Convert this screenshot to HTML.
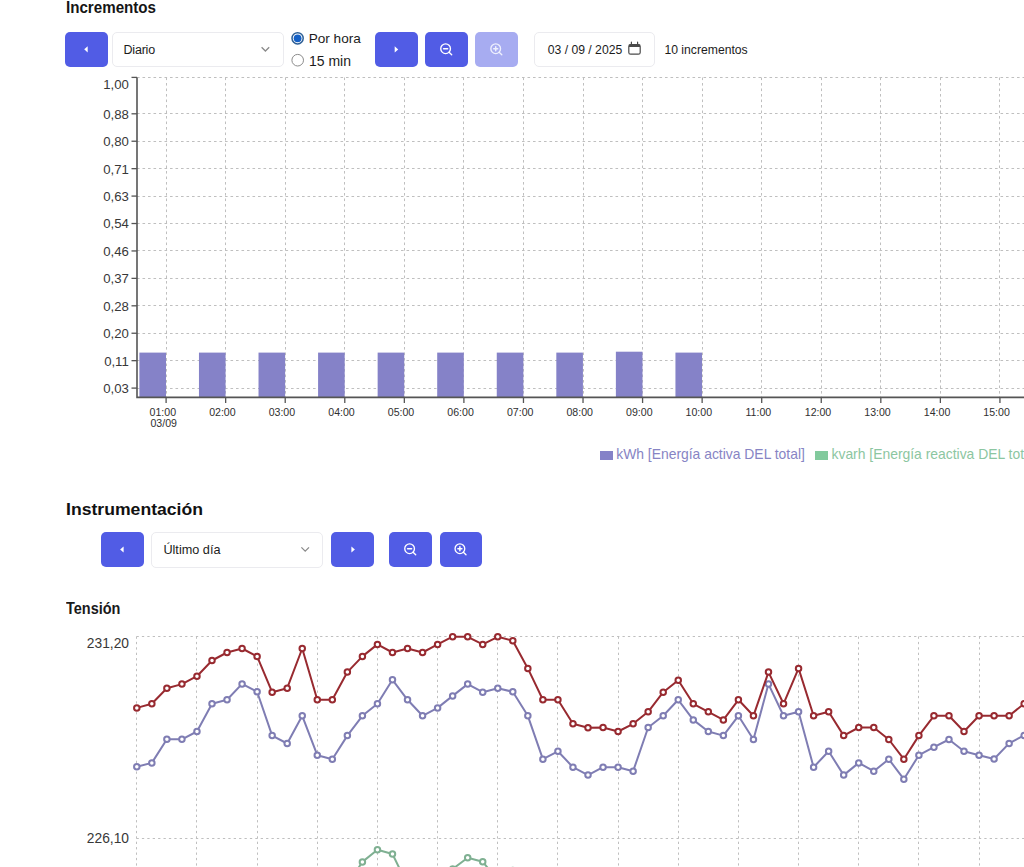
<!DOCTYPE html>
<html><head><meta charset="utf-8"><style>
*{box-sizing:border-box}
html,body{margin:0;padding:0;background:#fff;width:1024px;height:867px;overflow:hidden;position:relative;font-family:"Liberation Sans", sans-serif;color:#1c1c1c}
.a{position:absolute}
.h{position:absolute;font-weight:700;white-space:nowrap;color:#111}
.btn{position:absolute;background:#515ce5;border-radius:5px;display:flex;align-items:center;justify-content:center}
.sel{position:absolute;border:1px solid #ebebef;border-radius:5px;background:#fff}
.yl{position:absolute;right:895.2px;font-size:13.2px;line-height:16px;color:#383838;white-space:nowrap;text-align:right}
.xl{position:absolute;top:406.2px;width:40px;text-align:center;font-size:10.6px;line-height:12px;color:#303030;white-space:nowrap}
.t{position:absolute;white-space:nowrap}
</style></head><body>
<div class="h" style="left:65.5px;top:-1.1px;font-size:16px;line-height:18px;transform:scaleX(0.946);transform-origin:0 0;color:#151515">Incrementos</div>

<div class="btn" style="left:65px;top:31.6px;width:43px;height:35.4px"></div>
<div class="sel" style="left:112px;top:32px;width:172px;height:35px"></div>
<div class="t" style="left:123.5px;top:43px;font-size:12.5px;line-height:15px;letter-spacing:-0.2px">Diario</div>


<div class="t" style="left:308.7px;top:31.3px;font-size:13.6px;line-height:16px">Por hora</div>
<div class="t" style="left:309px;top:52.8px;font-size:14px;line-height:16px">15 min</div>

<div class="btn" style="left:374.5px;top:31.6px;width:43px;height:35.4px"></div>
<div class="btn" style="left:424.7px;top:31.6px;width:43px;height:35.4px"></div>
<div class="btn" style="left:475px;top:31.6px;width:43px;height:35.4px;background:#a7acf1"></div>

<div class="sel" style="left:534px;top:32px;width:121px;height:35px"></div>
<div class="t" style="left:547.7px;top:42.7px;font-size:12.2px;line-height:15px">03 / 09 / 2025</div>

<div class="t" style="left:664.4px;top:42.7px;font-size:12.2px;line-height:15px">10 incrementos</div>

<svg width="1024" height="867" style="position:absolute;left:0;top:0"><g stroke="#bfbfbf" stroke-width="1" stroke-dasharray="2.6 2.9"><line x1="137" y1="77.50" x2="1024" y2="77.50"/><line x1="137" y1="113.50" x2="1024" y2="113.50"/><line x1="137" y1="141.50" x2="1024" y2="141.50"/><line x1="137" y1="168.50" x2="1024" y2="168.50"/><line x1="137" y1="196.50" x2="1024" y2="196.50"/><line x1="137" y1="223.50" x2="1024" y2="223.50"/><line x1="137" y1="250.50" x2="1024" y2="250.50"/><line x1="137" y1="278.50" x2="1024" y2="278.50"/><line x1="137" y1="305.50" x2="1024" y2="305.50"/><line x1="137" y1="333.50" x2="1024" y2="333.50"/><line x1="137" y1="360.50" x2="1024" y2="360.50"/><line x1="137" y1="388.50" x2="1024" y2="388.50"/><line x1="166.50" y1="77.5" x2="166.50" y2="397"/><line x1="225.50" y1="77.5" x2="225.50" y2="397"/><line x1="285.50" y1="77.5" x2="285.50" y2="397"/><line x1="344.50" y1="77.5" x2="344.50" y2="397"/><line x1="404.50" y1="77.5" x2="404.50" y2="397"/><line x1="463.50" y1="77.5" x2="463.50" y2="397"/><line x1="523.50" y1="77.5" x2="523.50" y2="397"/><line x1="583.50" y1="77.5" x2="583.50" y2="397"/><line x1="642.50" y1="77.5" x2="642.50" y2="397"/><line x1="702.50" y1="77.5" x2="702.50" y2="397"/><line x1="761.50" y1="77.5" x2="761.50" y2="397"/><line x1="821.50" y1="77.5" x2="821.50" y2="397"/><line x1="880.50" y1="77.5" x2="880.50" y2="397"/><line x1="940.50" y1="77.5" x2="940.50" y2="397"/><line x1="999.50" y1="77.5" x2="999.50" y2="397"/></g><rect x="139.40" y="352.6" width="26.6" height="44.80" fill="#8582c8"/><rect x="198.96" y="352.6" width="26.6" height="44.80" fill="#8582c8"/><rect x="258.52" y="352.6" width="26.6" height="44.80" fill="#8582c8"/><rect x="318.08" y="352.6" width="26.6" height="44.80" fill="#8582c8"/><rect x="377.64" y="352.6" width="26.6" height="44.80" fill="#8582c8"/><rect x="437.20" y="352.6" width="26.6" height="44.80" fill="#8582c8"/><rect x="496.76" y="352.6" width="26.6" height="44.80" fill="#8582c8"/><rect x="556.32" y="352.6" width="26.6" height="44.80" fill="#8582c8"/><rect x="615.88" y="351.7" width="26.6" height="45.70" fill="#8582c8"/><rect x="675.44" y="352.6" width="26.6" height="44.80" fill="#8582c8"/><path d="M137,77.4 V397.4 H1024" fill="none" stroke="#555" stroke-width="1.6"/><path d="M131.5,77.4 H137" stroke="#555" stroke-width="1.3"/><g stroke="#555" stroke-width="1.3"><path d="M131.5,113.80 H137"/><path d="M131.5,141.23 H137"/><path d="M131.5,168.66 H137"/><path d="M131.5,196.09 H137"/><path d="M131.5,223.52 H137"/><path d="M131.5,250.95 H137"/><path d="M131.5,278.38 H137"/><path d="M131.5,305.81 H137"/><path d="M131.5,333.24 H137"/><path d="M131.5,360.67 H137"/><path d="M131.5,388.10 H137"/><path d="M166.10,397.4 V403"/><path d="M225.66,397.4 V403"/><path d="M285.22,397.4 V403"/><path d="M344.78,397.4 V403"/><path d="M404.34,397.4 V403"/><path d="M463.90,397.4 V403"/><path d="M523.46,397.4 V403"/><path d="M583.02,397.4 V403"/><path d="M642.58,397.4 V403"/><path d="M702.14,397.4 V403"/><path d="M761.70,397.4 V403"/><path d="M821.26,397.4 V403"/><path d="M880.82,397.4 V403"/><path d="M940.38,397.4 V403"/><path d="M999.94,397.4 V403"/></g></svg>
<div class="yl" style="top:77.0px">1,00</div><div class="yl" style="top:106.7px">0,88</div><div class="yl" style="top:134.1px">0,80</div><div class="yl" style="top:161.6px">0,71</div><div class="yl" style="top:189.0px">0,63</div><div class="yl" style="top:216.4px">0,54</div><div class="yl" style="top:243.8px">0,46</div><div class="yl" style="top:271.3px">0,37</div><div class="yl" style="top:298.7px">0,28</div><div class="yl" style="top:326.1px">0,20</div><div class="yl" style="top:353.6px">0,11</div><div class="yl" style="top:381.0px">0,03</div><div class="xl" style="left:142.8px">01:00</div><div class="xl" style="left:202.4px">02:00</div><div class="xl" style="left:261.9px">03:00</div><div class="xl" style="left:321.5px">04:00</div><div class="xl" style="left:381.0px">05:00</div><div class="xl" style="left:440.6px">06:00</div><div class="xl" style="left:500.2px">07:00</div><div class="xl" style="left:559.7px">08:00</div><div class="xl" style="left:619.3px">09:00</div><div class="xl" style="left:678.8px">10:00</div><div class="xl" style="left:738.4px">11:00</div><div class="xl" style="left:798.0px">12:00</div><div class="xl" style="left:857.5px">13:00</div><div class="xl" style="left:917.1px">14:00</div><div class="xl" style="left:976.6px">15:00</div><div class="xl" style="left:143.7px;top:416.8px">03/09</div>

<div class="a" style="left:600.1px;top:450.6px;width:12.7px;height:9px;background:#8582c8"></div>
<div class="t" style="left:616.2px;top:446px;font-size:13.9px;line-height:16px;color:#8784c4">kWh [Energía activa DEL total]</div>
<div class="a" style="left:815.4px;top:450.6px;width:12.7px;height:9px;background:#82ca9d"></div>
<div class="t" style="left:831.5px;top:446px;font-size:13.9px;line-height:16px;color:#8cc6a1">kvarh [Energía reactiva DEL total]</div>

<div class="h" style="left:65.9px;top:500px;font-size:16.2px;line-height:19px;transform:scaleX(1.088);transform-origin:0 0">Instrumentación</div>

<div class="btn" style="left:101px;top:531.6px;width:43px;height:35.6px"></div>
<div class="sel" style="left:151.2px;top:531.7px;width:172.3px;height:36px"></div>
<div class="t" style="left:163.4px;top:542.6px;font-size:12.7px;line-height:15px">Último día</div>

<div class="btn" style="left:331.4px;top:531.6px;width:42.6px;height:35.6px"></div>
<div class="btn" style="left:389px;top:531.6px;width:42.6px;height:35.6px"></div>
<div class="btn" style="left:439.5px;top:531.6px;width:42.2px;height:35.6px"></div>

<div class="h" style="left:65.5px;top:600.4px;font-size:16px;line-height:18px;transform:scaleX(0.905);transform-origin:0 0;color:#1a1a1a">Tensión</div>

<svg width="1024" height="867" style="position:absolute;left:0;top:0"><g stroke="#bfbfbf" stroke-width="1" stroke-dasharray="2.3 3.1"><line x1="136.5" y1="636.5" x2="1024" y2="636.5"/><line x1="136.5" y1="838.5" x2="1024" y2="838.5"/><line x1="136.50" y1="636.5" x2="136.50" y2="867"/><line x1="196.50" y1="636.5" x2="196.50" y2="867"/><line x1="257.50" y1="636.5" x2="257.50" y2="867"/><line x1="317.50" y1="636.5" x2="317.50" y2="867"/><line x1="377.50" y1="636.5" x2="377.50" y2="867"/><line x1="437.50" y1="636.5" x2="437.50" y2="867"/><line x1="497.50" y1="636.5" x2="497.50" y2="867"/><line x1="557.50" y1="636.5" x2="557.50" y2="867"/><line x1="618.50" y1="636.5" x2="618.50" y2="867"/><line x1="678.50" y1="636.5" x2="678.50" y2="867"/><line x1="738.50" y1="636.5" x2="738.50" y2="867"/><line x1="798.50" y1="636.5" x2="798.50" y2="867"/><line x1="858.50" y1="636.5" x2="858.50" y2="867"/><line x1="918.50" y1="636.5" x2="918.50" y2="867"/><line x1="979.50" y1="636.5" x2="979.50" y2="867"/></g><path d="M332.32,905.00 L347.36,885.00 L362.40,861.90 L377.44,849.70 L392.48,854.00 L407.52,885.00 L422.56,900.00 L437.60,890.00 L452.64,869.00 L467.68,857.70 L482.72,861.80 L497.76,880.00 L512.80,870.50 L527.84,880.00 L663.20,885.00 L678.24,870.80 L693.28,885.00" fill="none" stroke="#7fb092" stroke-width="2.0" stroke-linejoin="round"/><circle cx="332.32" cy="905.00" r="2.75" fill="#fff" stroke="#7fb092" stroke-width="2.00"/><circle cx="347.36" cy="885.00" r="2.75" fill="#fff" stroke="#7fb092" stroke-width="2.00"/><circle cx="362.40" cy="861.90" r="2.75" fill="#fff" stroke="#7fb092" stroke-width="2.00"/><circle cx="377.44" cy="849.70" r="2.75" fill="#fff" stroke="#7fb092" stroke-width="2.00"/><circle cx="392.48" cy="854.00" r="2.75" fill="#fff" stroke="#7fb092" stroke-width="2.00"/><circle cx="407.52" cy="885.00" r="2.75" fill="#fff" stroke="#7fb092" stroke-width="2.00"/><circle cx="422.56" cy="900.00" r="2.75" fill="#fff" stroke="#7fb092" stroke-width="2.00"/><circle cx="437.60" cy="890.00" r="2.75" fill="#fff" stroke="#7fb092" stroke-width="2.00"/><circle cx="452.64" cy="869.00" r="2.75" fill="#fff" stroke="#7fb092" stroke-width="2.00"/><circle cx="467.68" cy="857.70" r="2.75" fill="#fff" stroke="#7fb092" stroke-width="2.00"/><circle cx="482.72" cy="861.80" r="2.75" fill="#fff" stroke="#7fb092" stroke-width="2.00"/><circle cx="497.76" cy="880.00" r="2.75" fill="#fff" stroke="#7fb092" stroke-width="2.00"/><circle cx="512.80" cy="870.50" r="2.75" fill="#fff" stroke="#7fb092" stroke-width="2.00"/><circle cx="527.84" cy="880.00" r="2.75" fill="#fff" stroke="#7fb092" stroke-width="2.00"/><circle cx="663.20" cy="885.00" r="2.75" fill="#fff" stroke="#7fb092" stroke-width="2.00"/><circle cx="678.24" cy="870.80" r="2.75" fill="#fff" stroke="#7fb092" stroke-width="2.00"/><circle cx="693.28" cy="885.00" r="2.75" fill="#fff" stroke="#7fb092" stroke-width="2.00"/><path d="M136.80,766.80 L151.84,762.90 L166.88,739.30 L181.92,739.30 L196.96,731.50 L212.00,703.80 L227.04,699.80 L242.08,683.90 L257.12,691.80 L272.16,735.60 L287.20,743.50 L302.24,715.80 L317.28,755.20 L332.32,759.20 L347.36,735.60 L362.40,715.80 L377.44,703.80 L392.48,679.80 L407.52,699.80 L422.56,715.80 L437.60,707.90 L452.64,695.90 L467.68,684.10 L482.72,692.20 L497.76,688.20 L512.80,691.80 L527.84,715.80 L542.88,759.20 L557.92,751.30 L572.96,767.20 L588.00,775.10 L603.04,767.20 L618.08,767.20 L633.12,771.20 L648.16,727.50 L663.20,715.80 L678.24,699.80 L693.28,719.90 L708.32,731.50 L723.36,735.60 L738.40,715.80 L753.44,739.50 L768.48,684.10 L783.52,715.80 L798.56,711.80 L813.60,767.20 L828.64,751.30 L843.68,775.10 L858.72,762.90 L873.76,771.20 L888.80,759.20 L903.84,779.20 L918.88,755.20 L933.92,747.20 L948.96,739.50 L964.00,751.30 L979.04,755.20 L994.08,759.00 L1009.12,743.40 L1024.16,735.40 L1039.20,730.00" fill="none" stroke="#7f7db3" stroke-width="2.0" stroke-linejoin="round"/><circle cx="136.80" cy="766.80" r="2.75" fill="#fff" stroke="#7f7db3" stroke-width="2.00"/><circle cx="151.84" cy="762.90" r="2.75" fill="#fff" stroke="#7f7db3" stroke-width="2.00"/><circle cx="166.88" cy="739.30" r="2.75" fill="#fff" stroke="#7f7db3" stroke-width="2.00"/><circle cx="181.92" cy="739.30" r="2.75" fill="#fff" stroke="#7f7db3" stroke-width="2.00"/><circle cx="196.96" cy="731.50" r="2.75" fill="#fff" stroke="#7f7db3" stroke-width="2.00"/><circle cx="212.00" cy="703.80" r="2.75" fill="#fff" stroke="#7f7db3" stroke-width="2.00"/><circle cx="227.04" cy="699.80" r="2.75" fill="#fff" stroke="#7f7db3" stroke-width="2.00"/><circle cx="242.08" cy="683.90" r="2.75" fill="#fff" stroke="#7f7db3" stroke-width="2.00"/><circle cx="257.12" cy="691.80" r="2.75" fill="#fff" stroke="#7f7db3" stroke-width="2.00"/><circle cx="272.16" cy="735.60" r="2.75" fill="#fff" stroke="#7f7db3" stroke-width="2.00"/><circle cx="287.20" cy="743.50" r="2.75" fill="#fff" stroke="#7f7db3" stroke-width="2.00"/><circle cx="302.24" cy="715.80" r="2.75" fill="#fff" stroke="#7f7db3" stroke-width="2.00"/><circle cx="317.28" cy="755.20" r="2.75" fill="#fff" stroke="#7f7db3" stroke-width="2.00"/><circle cx="332.32" cy="759.20" r="2.75" fill="#fff" stroke="#7f7db3" stroke-width="2.00"/><circle cx="347.36" cy="735.60" r="2.75" fill="#fff" stroke="#7f7db3" stroke-width="2.00"/><circle cx="362.40" cy="715.80" r="2.75" fill="#fff" stroke="#7f7db3" stroke-width="2.00"/><circle cx="377.44" cy="703.80" r="2.75" fill="#fff" stroke="#7f7db3" stroke-width="2.00"/><circle cx="392.48" cy="679.80" r="2.75" fill="#fff" stroke="#7f7db3" stroke-width="2.00"/><circle cx="407.52" cy="699.80" r="2.75" fill="#fff" stroke="#7f7db3" stroke-width="2.00"/><circle cx="422.56" cy="715.80" r="2.75" fill="#fff" stroke="#7f7db3" stroke-width="2.00"/><circle cx="437.60" cy="707.90" r="2.75" fill="#fff" stroke="#7f7db3" stroke-width="2.00"/><circle cx="452.64" cy="695.90" r="2.75" fill="#fff" stroke="#7f7db3" stroke-width="2.00"/><circle cx="467.68" cy="684.10" r="2.75" fill="#fff" stroke="#7f7db3" stroke-width="2.00"/><circle cx="482.72" cy="692.20" r="2.75" fill="#fff" stroke="#7f7db3" stroke-width="2.00"/><circle cx="497.76" cy="688.20" r="2.75" fill="#fff" stroke="#7f7db3" stroke-width="2.00"/><circle cx="512.80" cy="691.80" r="2.75" fill="#fff" stroke="#7f7db3" stroke-width="2.00"/><circle cx="527.84" cy="715.80" r="2.75" fill="#fff" stroke="#7f7db3" stroke-width="2.00"/><circle cx="542.88" cy="759.20" r="2.75" fill="#fff" stroke="#7f7db3" stroke-width="2.00"/><circle cx="557.92" cy="751.30" r="2.75" fill="#fff" stroke="#7f7db3" stroke-width="2.00"/><circle cx="572.96" cy="767.20" r="2.75" fill="#fff" stroke="#7f7db3" stroke-width="2.00"/><circle cx="588.00" cy="775.10" r="2.75" fill="#fff" stroke="#7f7db3" stroke-width="2.00"/><circle cx="603.04" cy="767.20" r="2.75" fill="#fff" stroke="#7f7db3" stroke-width="2.00"/><circle cx="618.08" cy="767.20" r="2.75" fill="#fff" stroke="#7f7db3" stroke-width="2.00"/><circle cx="633.12" cy="771.20" r="2.75" fill="#fff" stroke="#7f7db3" stroke-width="2.00"/><circle cx="648.16" cy="727.50" r="2.75" fill="#fff" stroke="#7f7db3" stroke-width="2.00"/><circle cx="663.20" cy="715.80" r="2.75" fill="#fff" stroke="#7f7db3" stroke-width="2.00"/><circle cx="678.24" cy="699.80" r="2.75" fill="#fff" stroke="#7f7db3" stroke-width="2.00"/><circle cx="693.28" cy="719.90" r="2.75" fill="#fff" stroke="#7f7db3" stroke-width="2.00"/><circle cx="708.32" cy="731.50" r="2.75" fill="#fff" stroke="#7f7db3" stroke-width="2.00"/><circle cx="723.36" cy="735.60" r="2.75" fill="#fff" stroke="#7f7db3" stroke-width="2.00"/><circle cx="738.40" cy="715.80" r="2.75" fill="#fff" stroke="#7f7db3" stroke-width="2.00"/><circle cx="753.44" cy="739.50" r="2.75" fill="#fff" stroke="#7f7db3" stroke-width="2.00"/><circle cx="768.48" cy="684.10" r="2.75" fill="#fff" stroke="#7f7db3" stroke-width="2.00"/><circle cx="783.52" cy="715.80" r="2.75" fill="#fff" stroke="#7f7db3" stroke-width="2.00"/><circle cx="798.56" cy="711.80" r="2.75" fill="#fff" stroke="#7f7db3" stroke-width="2.00"/><circle cx="813.60" cy="767.20" r="2.75" fill="#fff" stroke="#7f7db3" stroke-width="2.00"/><circle cx="828.64" cy="751.30" r="2.75" fill="#fff" stroke="#7f7db3" stroke-width="2.00"/><circle cx="843.68" cy="775.10" r="2.75" fill="#fff" stroke="#7f7db3" stroke-width="2.00"/><circle cx="858.72" cy="762.90" r="2.75" fill="#fff" stroke="#7f7db3" stroke-width="2.00"/><circle cx="873.76" cy="771.20" r="2.75" fill="#fff" stroke="#7f7db3" stroke-width="2.00"/><circle cx="888.80" cy="759.20" r="2.75" fill="#fff" stroke="#7f7db3" stroke-width="2.00"/><circle cx="903.84" cy="779.20" r="2.75" fill="#fff" stroke="#7f7db3" stroke-width="2.00"/><circle cx="918.88" cy="755.20" r="2.75" fill="#fff" stroke="#7f7db3" stroke-width="2.00"/><circle cx="933.92" cy="747.20" r="2.75" fill="#fff" stroke="#7f7db3" stroke-width="2.00"/><circle cx="948.96" cy="739.50" r="2.75" fill="#fff" stroke="#7f7db3" stroke-width="2.00"/><circle cx="964.00" cy="751.30" r="2.75" fill="#fff" stroke="#7f7db3" stroke-width="2.00"/><circle cx="979.04" cy="755.20" r="2.75" fill="#fff" stroke="#7f7db3" stroke-width="2.00"/><circle cx="994.08" cy="759.00" r="2.75" fill="#fff" stroke="#7f7db3" stroke-width="2.00"/><circle cx="1009.12" cy="743.40" r="2.75" fill="#fff" stroke="#7f7db3" stroke-width="2.00"/><circle cx="1024.16" cy="735.40" r="2.75" fill="#fff" stroke="#7f7db3" stroke-width="2.00"/><circle cx="1039.20" cy="730.00" r="2.75" fill="#fff" stroke="#7f7db3" stroke-width="2.00"/><path d="M136.80,707.90 L151.84,703.80 L166.88,688.20 L181.92,684.10 L196.96,676.20 L212.00,660.50 L227.04,652.50 L242.08,648.50 L257.12,656.40 L272.16,692.20 L287.20,688.20 L302.24,648.50 L317.28,699.80 L332.32,699.80 L347.36,672.10 L362.40,656.40 L377.44,644.40 L392.48,652.50 L407.52,648.50 L422.56,652.50 L437.60,644.40 L452.64,636.70 L467.68,636.80 L482.72,644.40 L497.76,636.80 L512.80,640.70 L527.84,668.40 L542.88,699.80 L557.92,699.80 L572.96,723.80 L588.00,727.80 L603.04,727.50 L618.08,731.50 L633.12,723.80 L648.16,711.80 L663.20,692.20 L678.24,680.20 L693.28,703.80 L708.32,711.80 L723.36,719.90 L738.40,699.80 L753.44,715.80 L768.48,672.10 L783.52,703.80 L798.56,668.40 L813.60,715.80 L828.64,711.80 L843.68,735.60 L858.72,727.50 L873.76,727.50 L888.80,739.50 L903.84,759.20 L918.88,735.60 L933.92,715.80 L948.96,715.80 L964.00,731.50 L979.04,715.80 L994.08,715.70 L1009.12,715.70 L1024.16,703.70 L1039.20,695.00" fill="none" stroke="#982a30" stroke-width="2.0" stroke-linejoin="round"/><circle cx="136.80" cy="707.90" r="2.75" fill="#fff" stroke="#982a30" stroke-width="2.00"/><circle cx="151.84" cy="703.80" r="2.75" fill="#fff" stroke="#982a30" stroke-width="2.00"/><circle cx="166.88" cy="688.20" r="2.75" fill="#fff" stroke="#982a30" stroke-width="2.00"/><circle cx="181.92" cy="684.10" r="2.75" fill="#fff" stroke="#982a30" stroke-width="2.00"/><circle cx="196.96" cy="676.20" r="2.75" fill="#fff" stroke="#982a30" stroke-width="2.00"/><circle cx="212.00" cy="660.50" r="2.75" fill="#fff" stroke="#982a30" stroke-width="2.00"/><circle cx="227.04" cy="652.50" r="2.75" fill="#fff" stroke="#982a30" stroke-width="2.00"/><circle cx="242.08" cy="648.50" r="2.75" fill="#fff" stroke="#982a30" stroke-width="2.00"/><circle cx="257.12" cy="656.40" r="2.75" fill="#fff" stroke="#982a30" stroke-width="2.00"/><circle cx="272.16" cy="692.20" r="2.75" fill="#fff" stroke="#982a30" stroke-width="2.00"/><circle cx="287.20" cy="688.20" r="2.75" fill="#fff" stroke="#982a30" stroke-width="2.00"/><circle cx="302.24" cy="648.50" r="2.75" fill="#fff" stroke="#982a30" stroke-width="2.00"/><circle cx="317.28" cy="699.80" r="2.75" fill="#fff" stroke="#982a30" stroke-width="2.00"/><circle cx="332.32" cy="699.80" r="2.75" fill="#fff" stroke="#982a30" stroke-width="2.00"/><circle cx="347.36" cy="672.10" r="2.75" fill="#fff" stroke="#982a30" stroke-width="2.00"/><circle cx="362.40" cy="656.40" r="2.75" fill="#fff" stroke="#982a30" stroke-width="2.00"/><circle cx="377.44" cy="644.40" r="2.75" fill="#fff" stroke="#982a30" stroke-width="2.00"/><circle cx="392.48" cy="652.50" r="2.75" fill="#fff" stroke="#982a30" stroke-width="2.00"/><circle cx="407.52" cy="648.50" r="2.75" fill="#fff" stroke="#982a30" stroke-width="2.00"/><circle cx="422.56" cy="652.50" r="2.75" fill="#fff" stroke="#982a30" stroke-width="2.00"/><circle cx="437.60" cy="644.40" r="2.75" fill="#fff" stroke="#982a30" stroke-width="2.00"/><circle cx="452.64" cy="636.70" r="2.75" fill="#fff" stroke="#982a30" stroke-width="2.00"/><circle cx="467.68" cy="636.80" r="2.75" fill="#fff" stroke="#982a30" stroke-width="2.00"/><circle cx="482.72" cy="644.40" r="2.75" fill="#fff" stroke="#982a30" stroke-width="2.00"/><circle cx="497.76" cy="636.80" r="2.75" fill="#fff" stroke="#982a30" stroke-width="2.00"/><circle cx="512.80" cy="640.70" r="2.75" fill="#fff" stroke="#982a30" stroke-width="2.00"/><circle cx="527.84" cy="668.40" r="2.75" fill="#fff" stroke="#982a30" stroke-width="2.00"/><circle cx="542.88" cy="699.80" r="2.75" fill="#fff" stroke="#982a30" stroke-width="2.00"/><circle cx="557.92" cy="699.80" r="2.75" fill="#fff" stroke="#982a30" stroke-width="2.00"/><circle cx="572.96" cy="723.80" r="2.75" fill="#fff" stroke="#982a30" stroke-width="2.00"/><circle cx="588.00" cy="727.80" r="2.75" fill="#fff" stroke="#982a30" stroke-width="2.00"/><circle cx="603.04" cy="727.50" r="2.75" fill="#fff" stroke="#982a30" stroke-width="2.00"/><circle cx="618.08" cy="731.50" r="2.75" fill="#fff" stroke="#982a30" stroke-width="2.00"/><circle cx="633.12" cy="723.80" r="2.75" fill="#fff" stroke="#982a30" stroke-width="2.00"/><circle cx="648.16" cy="711.80" r="2.75" fill="#fff" stroke="#982a30" stroke-width="2.00"/><circle cx="663.20" cy="692.20" r="2.75" fill="#fff" stroke="#982a30" stroke-width="2.00"/><circle cx="678.24" cy="680.20" r="2.75" fill="#fff" stroke="#982a30" stroke-width="2.00"/><circle cx="693.28" cy="703.80" r="2.75" fill="#fff" stroke="#982a30" stroke-width="2.00"/><circle cx="708.32" cy="711.80" r="2.75" fill="#fff" stroke="#982a30" stroke-width="2.00"/><circle cx="723.36" cy="719.90" r="2.75" fill="#fff" stroke="#982a30" stroke-width="2.00"/><circle cx="738.40" cy="699.80" r="2.75" fill="#fff" stroke="#982a30" stroke-width="2.00"/><circle cx="753.44" cy="715.80" r="2.75" fill="#fff" stroke="#982a30" stroke-width="2.00"/><circle cx="768.48" cy="672.10" r="2.75" fill="#fff" stroke="#982a30" stroke-width="2.00"/><circle cx="783.52" cy="703.80" r="2.75" fill="#fff" stroke="#982a30" stroke-width="2.00"/><circle cx="798.56" cy="668.40" r="2.75" fill="#fff" stroke="#982a30" stroke-width="2.00"/><circle cx="813.60" cy="715.80" r="2.75" fill="#fff" stroke="#982a30" stroke-width="2.00"/><circle cx="828.64" cy="711.80" r="2.75" fill="#fff" stroke="#982a30" stroke-width="2.00"/><circle cx="843.68" cy="735.60" r="2.75" fill="#fff" stroke="#982a30" stroke-width="2.00"/><circle cx="858.72" cy="727.50" r="2.75" fill="#fff" stroke="#982a30" stroke-width="2.00"/><circle cx="873.76" cy="727.50" r="2.75" fill="#fff" stroke="#982a30" stroke-width="2.00"/><circle cx="888.80" cy="739.50" r="2.75" fill="#fff" stroke="#982a30" stroke-width="2.00"/><circle cx="903.84" cy="759.20" r="2.75" fill="#fff" stroke="#982a30" stroke-width="2.00"/><circle cx="918.88" cy="735.60" r="2.75" fill="#fff" stroke="#982a30" stroke-width="2.00"/><circle cx="933.92" cy="715.80" r="2.75" fill="#fff" stroke="#982a30" stroke-width="2.00"/><circle cx="948.96" cy="715.80" r="2.75" fill="#fff" stroke="#982a30" stroke-width="2.00"/><circle cx="964.00" cy="731.50" r="2.75" fill="#fff" stroke="#982a30" stroke-width="2.00"/><circle cx="979.04" cy="715.80" r="2.75" fill="#fff" stroke="#982a30" stroke-width="2.00"/><circle cx="994.08" cy="715.70" r="2.75" fill="#fff" stroke="#982a30" stroke-width="2.00"/><circle cx="1009.12" cy="715.70" r="2.75" fill="#fff" stroke="#982a30" stroke-width="2.00"/><circle cx="1024.16" cy="703.70" r="2.75" fill="#fff" stroke="#982a30" stroke-width="2.00"/><circle cx="1039.20" cy="695.00" r="2.75" fill="#fff" stroke="#982a30" stroke-width="2.00"/></svg>
<div class="t" style="right:895px;top:635.8px;font-size:13.8px;line-height:16px;color:#383838">231,20</div>
<div class="t" style="right:895px;top:831.2px;font-size:13.8px;line-height:16px;color:#383838">226,10</div>
<svg width="1024" height="867" style="position:absolute;left:0;top:0"><path d="M87.70,46.20 L84.20,49.30 L87.70,52.40Z" fill="#fff"/><path d="M394.70,46.30 L398.20,49.40 L394.70,52.50Z" fill="#fff"/><path d="M123.60,546.40 L120.10,549.50 L123.60,552.60Z" fill="#fff"/><path d="M351.40,546.40 L354.90,549.50 L351.40,552.60Z" fill="#fff"/><g fill="none" stroke="#fff" stroke-width="1.35" stroke-linecap="round"><circle cx="445.6" cy="48.7" r="4.85"/><path d="M449.10,52.20 L451.70,54.80"/><path d="M443.60,48.70 H447.60" stroke-width="1.5"/></g><g fill="none" stroke="#eef0fd" stroke-width="1.35" stroke-linecap="round"><circle cx="495.7" cy="48.7" r="4.85"/><path d="M499.20,52.20 L501.80,54.80"/><path d="M493.70,48.70 H497.70" stroke-width="1.5"/><path d="M495.70,46.70 V50.70" stroke-width="1.5"/></g><g fill="none" stroke="#fff" stroke-width="1.35" stroke-linecap="round"><circle cx="409.6" cy="548.7" r="4.85"/><path d="M413.10,552.20 L415.70,554.80"/><path d="M407.60,548.70 H411.60" stroke-width="1.5"/></g><g fill="none" stroke="#fff" stroke-width="1.35" stroke-linecap="round"><circle cx="459.9" cy="548.7" r="4.85"/><path d="M463.40,552.20 L466.00,554.80"/><path d="M457.90,548.70 H461.90" stroke-width="1.5"/><path d="M459.90,546.70 V550.70" stroke-width="1.5"/></g><path d="M261.60,47.30 L265.40,51.00 L269.20,47.30" fill="none" stroke="#8a8a8a" stroke-width="1.3"/><path d="M301.40,547.40 L305.20,551.10 L309.00,547.40" fill="none" stroke="#8a8a8a" stroke-width="1.3"/><g fill="none" stroke="#4a4a4a" stroke-width="1.2"><rect x="628.8" y="44.6" width="11.4" height="9.6" rx="1.8"/><path d="M629,45.8 H640" stroke-width="2.4"/><path d="M631.4,42.2 V45 M637.6,42.2 V45" stroke-linecap="round"/></g><circle cx="297.6" cy="38.3" r="5.6" fill="#fff" stroke="#2d5f96" stroke-width="1.5"/><circle cx="297.6" cy="38.3" r="3.9" fill="#1460c6"/><circle cx="297.7" cy="60.2" r="5.8" fill="#fff" stroke="#8c8c8c" stroke-width="1"/></svg>
</body></html>
